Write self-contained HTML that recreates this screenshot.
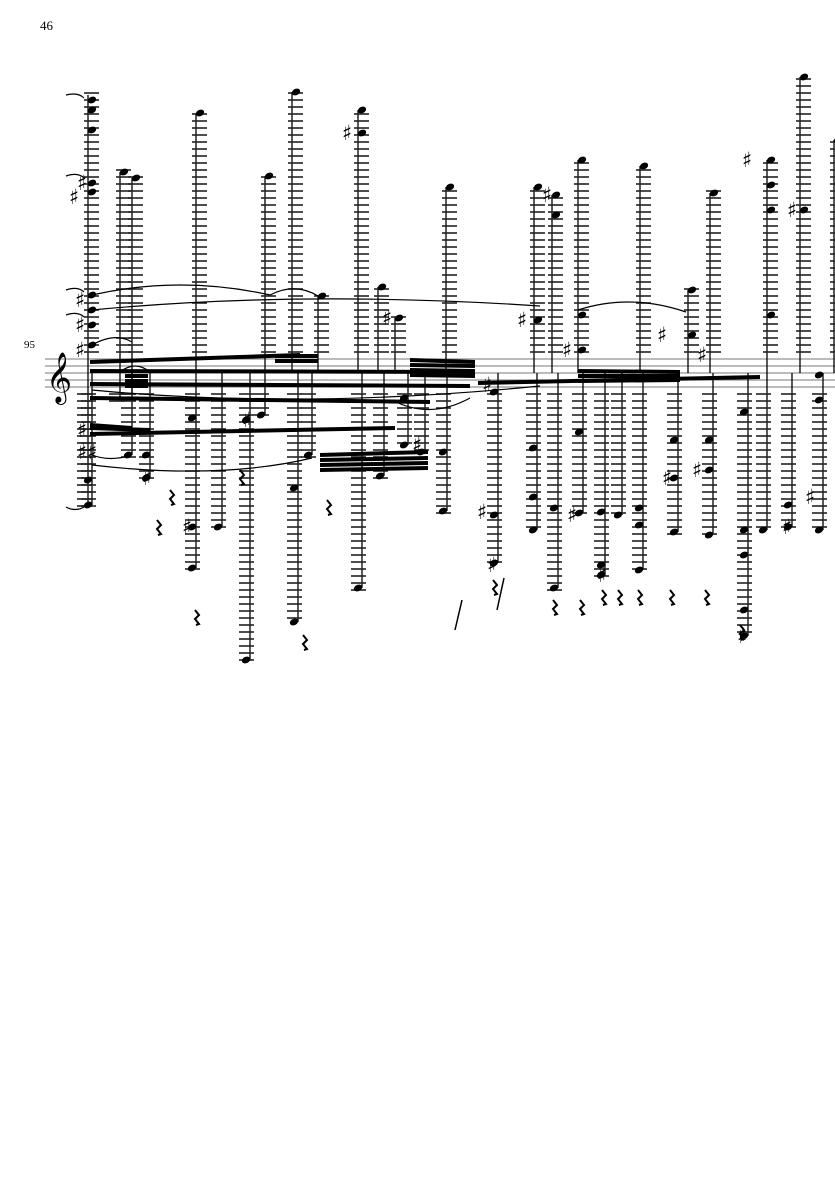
<!DOCTYPE html>
<html><head><meta charset="utf-8">
<style>
html,body{margin:0;padding:0;background:#fff;}
body{width:835px;height:1181px;overflow:hidden;position:relative;font-family:"Liberation Serif",serif;}
#pg{position:absolute;left:40px;top:18px;font-size:13px;}
#mn{position:absolute;left:24px;top:339px;font-size:11px;}
svg{position:absolute;left:0;top:0;}
</style></head><body>
<div id="pg">46</div>
<div id="mn">95</div>
<svg id="s" width="835" height="1181" xmlns="http://www.w3.org/2000/svg">
<g stroke="#777" stroke-width="1">
<line x1="45" y1="359" x2="835" y2="359"/><line x1="45" y1="366" x2="835" y2="366"/>
<line x1="45" y1="373" x2="835" y2="373"/><line x1="45" y1="380" x2="835" y2="380"/>
<line x1="45" y1="387" x2="835" y2="387"/>
</g>
<text x="46" y="392" font-size="44" font-family="DejaVu Sans, serif">𝄞</text>
<g id="g"></g>
</svg>
<script>
var g=document.getElementById('g'),h='';
function L(x1,y1,x2,y2,w,c){h+='<line x1="'+x1+'" y1="'+y1+'" x2="'+x2+'" y2="'+y2+'" stroke="'+(c||'#000')+'" stroke-width="'+(w||1)+'"/>';}
function N(x,y){h+='<ellipse cx="'+x+'" cy="'+y+'" rx="4.3" ry="3.2" transform="rotate(-25 '+x+' '+y+')" fill="#000"/>';}
function S(x,y){h+='<text x="'+(x-3)+'" y="'+(y+7)+'" font-size="21" font-family="DejaVu Sans">♯</text>';}
function R(x,y){h+='<path d="M'+x+' '+y+' l4 5 l-4 4 l4 5 l-3 1" stroke="#000" stroke-width="2" fill="none"/>';}
function col(x,notes,top,bot,dx){
  dx=dx===undefined?4:dx;
  var mn=Math.min.apply(null,notes.concat([top||999])),mx=Math.max.apply(null,notes.concat([bot||0]));
  var a=Math.min(mn,373),b=Math.max(mx,373);
  L(x,a,x,b,1.3);
  for(var y=352;y>=mn-2;y-=7)L(x-4,y,x+11,y,1.6,'#222');
  for(var y=394;y<=mx+2;y+=7)L(x-11,y,x+4,y,1.6,'#222');
  notes.forEach(function(n){N(n<373?x+dx:x-dx,n);});
}
col(88,[100,110,130,183,192,295,310,325,345],95,505);
col(120,[172],null,400);
col(132,[178],null,395);
col(196,[113]);
col(265,[176]);
col(292,[92]);
col(318,[296]);
col(358,[110,133]);
col(378,[287]);
col(395,[318]);
col(446,[187]);
col(534,[187,320]);
col(552,[195,215]);
col(578,[160,315,350]);
col(640,[166]);
col(688,[290,335]);
col(710,[193]);
col(767,[160,185,210,315]);
col(800,[77,210]);
col(834,[140]);
col(92,[480,505]);
col(132,[455]);
col(150,[455,478]);
col(196,[418,527,568]);
col(222,[527]);
col(250,[420,660]);
col(265,[415]);
col(298,[488,622]);
col(312,[455]);
col(362,[588]);
col(384,[476]);
col(408,[398,445]);
col(425,[452]);
col(447,[452,511]);
col(498,[392,515,563]);
col(537,[448,497,530]);
col(558,[508,588]);
col(583,[432,513]);
col(605,[512,565,575]);
col(622,[515]);
col(643,[508,525,570]);
col(678,[440,478,532]);
col(713,[440,470,535]);
col(748,[412,530,555,610,636]);
col(767,[530]);
col(792,[505,527]);
col(823,[375,400,530]);
function B(x1,y1,x2,y2,w){L(x1,y1,x2,y2,w||4);}
B(90,362,300,355);B(90,371,475,372);B(90,384,470,386);B(90,398,430,402);
B(125,376,148,376);B(125,381,148,381);B(125,386,148,386);
B(90,425,132,428);B(90,434,395,428);B(90,428,150,430);
B(275,356,318,356);B(275,361,318,361);
B(410,360,475,362);B(410,365,475,366);B(410,370,475,371);B(410,375,475,376);
B(478,383,760,377);
B(578,371,680,372);B(578,376,680,376);B(578,381,680,380);
B(320,460,428,458);B(320,465,428,463);B(320,470,428,468);
B(320,455,428,452);
[[80,183],[72,197],[78,300],[78,325],[78,350],[80,430],[80,452],[90,452],[145,478],[185,527],[245,420],[345,133],[385,318],[415,445],[485,385],[480,512],[490,565],[545,195],[520,320],[565,350],[570,515],[600,575],[660,335],[665,478],[700,355],[695,470],[745,160],[740,636],[790,210],[785,527],[808,497]].forEach(function(p){S(p[0],p[1]);});
[[170,490],[157,520],[240,470],[327,500],[195,610],[303,635],[493,580],[553,600],[580,600],[602,590],[618,590],[638,590],[670,590],[705,590],[740,625]].forEach(function(p){R(p[0],p[1]);});
h+='<g fill="none" stroke="#000" stroke-width="1.2">';
h+='<path d="M92 295 Q180 275 270 295"/><path d="M92 310 Q300 290 540 306"/><path d="M270 295 Q295 282 318 296"/>';
h+='<path d="M578 310 Q630 293 686 312"/><path d="M92 345 Q115 332 132 342"/><path d="M92 390 Q300 410 540 386"/>';
h+='<path d="M92 455 Q110 462 132 455"/><path d="M92 465 Q220 480 312 458"/><path d="M392 400 Q430 420 470 398"/>';
h+='<path d="M120 372 Q135 360 150 372"/>';
h+='<path d="M66 95 Q78 92 84 98"/><path d="M66 176 Q78 172 84 178"/><path d="M66 290 Q78 286 84 292"/><path d="M66 315 Q78 311 84 317"/>';
h+='<path d="M66 507 Q75 512 84 507"/>';
h+='</g>';
L(455,630,462,600,1.5);L(497,610,504,578,1.5);
g.innerHTML=h;
</script>
</body></html>
